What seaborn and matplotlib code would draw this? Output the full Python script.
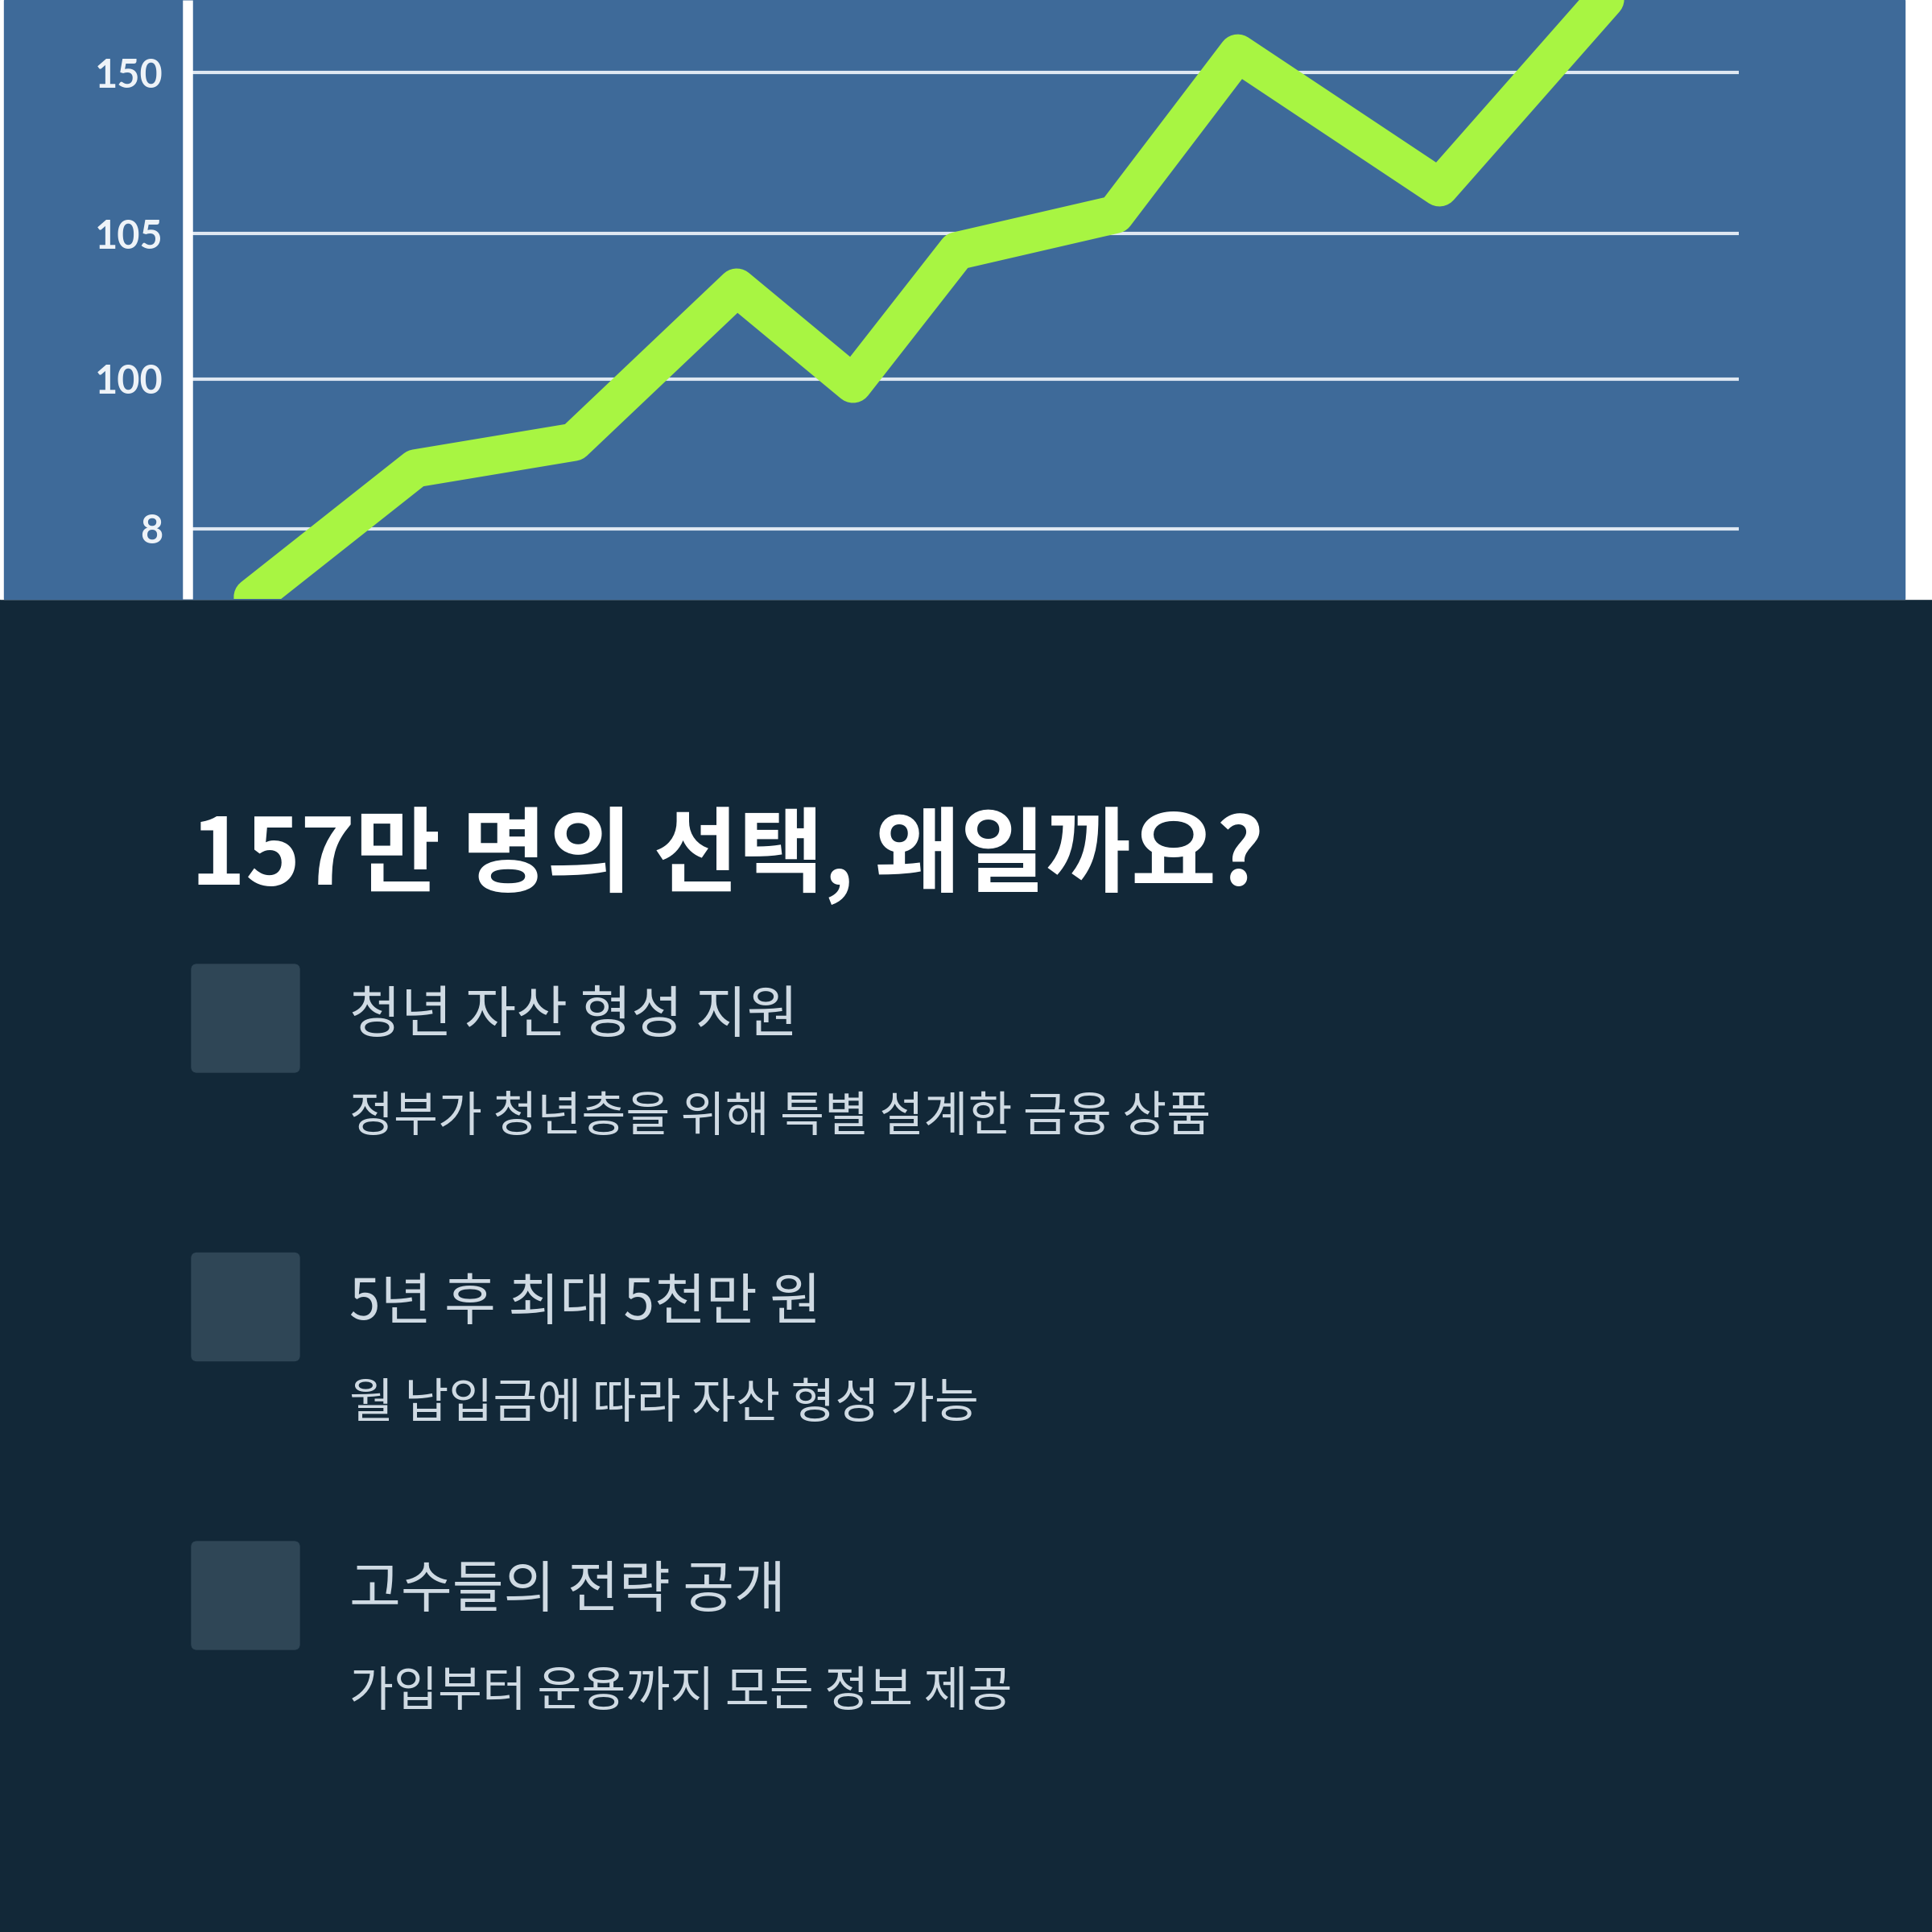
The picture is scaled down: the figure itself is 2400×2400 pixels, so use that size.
import matplotlib.pyplot as plt
from matplotlib.patches import Rectangle, FancyBboxPatch
import seaborn as sns

# Wartości (x: 0-100 w poprzek wykresu, y: 0-100 w górę panelu)
period = [4.2, 14.7, 24.9, 35.4, 42.9, 49.6, 59.8, 67.7, 80.7, 94.3]
value = [0.3, 21.8, 26.2, 52.0, 35.9, 58.1, 64.2, 91.1, 68.7, 108.7]
ytick_pos = [11.7, 36.7, 61.0, 87.9]
ytick_labels = ['8', '100', '105', '150']

title = '157만 명의 선택, 왜일까요?'
headings = ['청년 자산 형성 지원', '5년 후 최대 5천만 원', '고수들의 전략 공개']
details = ['정부가 청년층을 위해 특별 설계한 금융 상품',
           '월 납입금에 따라 자산 형성 가능',
           '가입부터 운용까지 모든 정보 제공']

NAVY = '#122838'
PANEL = '#3e6a99'
LIME = '#a8f542'
TILE = '#2f4656'
SOFT = '#cfdae3'

W = H = 2400


def fx(px):
    return px / W


def fy(py):
    return 1 - py / H


sns.set_theme(style='white')
plt.rcParams['font.family'] = ['Noto Sans CJK KR', 'DejaVu Sans']

fig = plt.figure(figsize=(24, 24), dpi=100, facecolor=NAVY)

# tło górnego panelu
fig.add_artist(Rectangle((0, fy(744)), 1, 744 / H, transform=fig.transFigure,
                         color='white', zorder=0))
fig.add_artist(Rectangle((fx(5), fy(744)), fx(2366 - 5), 744 / H,
                         transform=fig.transFigure, color=PANEL, zorder=0))

# =========================================================
# Wykres liniowy
# =========================================================
ax = fig.add_axes([fx(233), fy(744), fx(2160 - 233), 744 / H])
ax.set_facecolor('none')
sns.lineplot(x=period, y=value, ax=ax, color=LIME, linewidth=34,
             solid_joinstyle='round', solid_capstyle='round', zorder=3)
ax.set_xlim(0, 100)
ax.set_ylim(0, 100)
ax.set_xticks([])
ax.set_yticks(ytick_pos, ytick_labels)
ax.grid(axis='y', color='#dfe8f2', linewidth=3)
ax.set_axisbelow(True)
ax.tick_params(axis='y', length=0, pad=22, labelsize=35, labelcolor='#eef3f8')
for lbl in ax.get_yticklabels():
    lbl.set_fontfamily('Lato')
    lbl.set_fontweight('bold')
for s in ['top', 'right', 'bottom']:
    ax.spines[s].set_visible(False)
ax.spines['left'].set_color('white')
ax.spines['left'].set_linewidth(9)
ax.spines['left'].set_capstyle('butt')
ax.set_xlabel('')
ax.set_ylabel('')

# =========================================================
# Tekst pod wykresem
# =========================================================
fig.text(fx(237), fy(1063), title, fontsize=83, fontweight='bold',
         color='white', ha='left', va='center')

for i, (head, det) in enumerate(zip(headings, details)):
    top = 1198 + i * 358.5
    fig.add_artist(FancyBboxPatch((fx(238), fy(top + 134)), fx(134), 134 / H,
                                  boxstyle='round,pad=0,rounding_size=0.0028',
                                  transform=fig.transFigure, color=TILE))
    fig.text(fx(434), fy(1262 + i * 357), head, fontsize=50, color=SOFT,
             ha='left', va='center')
    fig.text(fx(434), fy(1388 + i * 357), det, fontsize=43, color=SOFT,
             ha='left', va='center')

plt.savefig('out.png', dpi=100, facecolor=NAVY)
